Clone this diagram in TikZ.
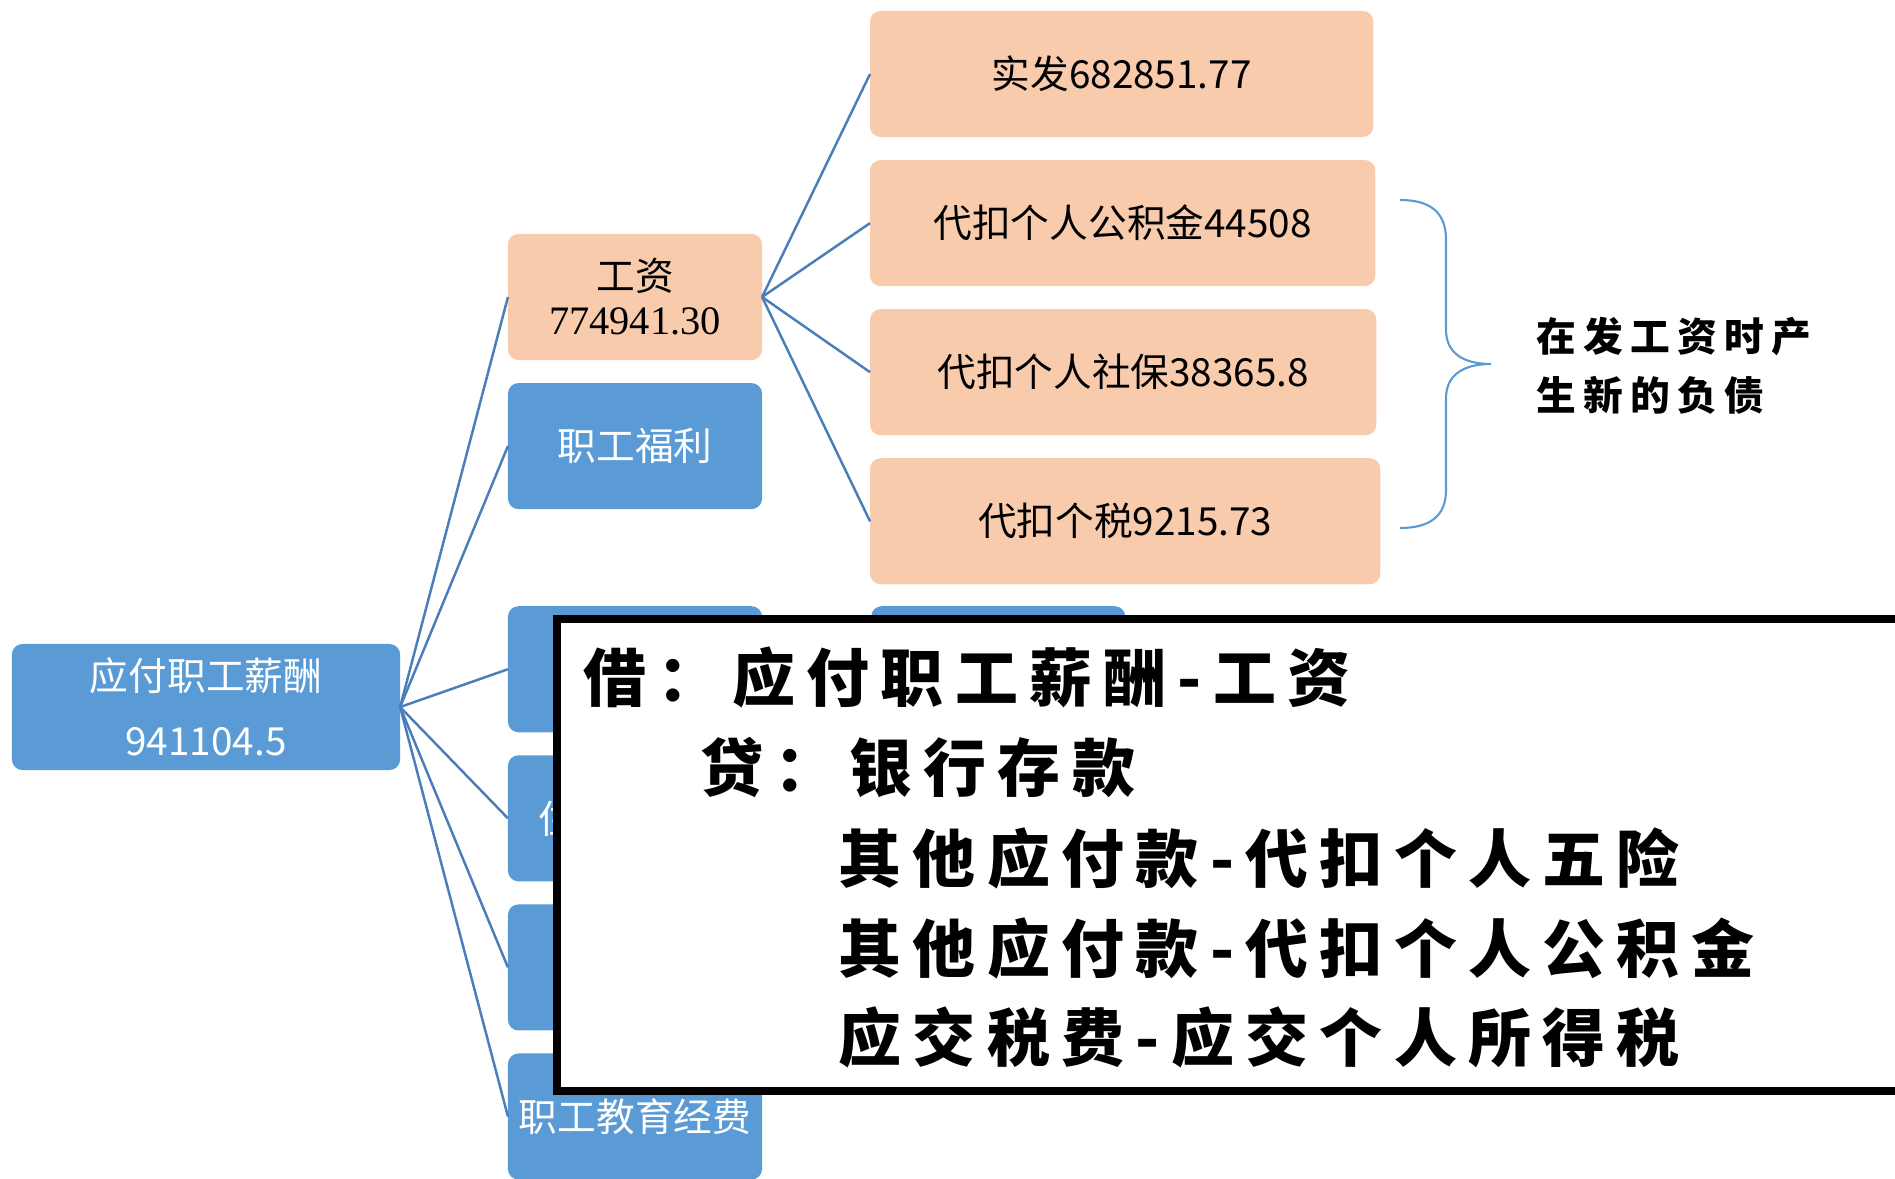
\documentclass[tikz,border=0pt]{standalone}
\usepackage{fontspec}
\newfontfamily\cnfont{Noto Sans CJK SC}
\newfontfamily\numfont{Liberation Serif}
\newfontfamily\brushfont[LetterSpace=18]{Noto Sans CJK SC}
\definecolor{smblue}{HTML}{5B9BD5}
\definecolor{smpeach}{HTML}{F8CBAD}
\definecolor{smline}{HTML}{4A7EBB}
\usepackage{tikz}
\usetikzlibrary{positioning}

\begin{document}
\begin{tikzpicture}[
  x=0.01cm, y=-0.01cm,
  box/.style={fill=#1, rounded corners=3pt, inner sep=0pt, outer sep=0pt,
    font=\cnfont\fontsize{11}{13}\selectfont, minimum width=2.54cm,
    minimum height=1.26cm, align=center},
  bluebox/.style={box=smblue, text=white},
  peachbox/.style={box=smpeach, text=black, anchor=west},
  link/.style={draw=smline, line width=0.7pt},
  entry/.style={font=\brushfont\bfseries\fontsize{17.9}{20}\selectfont, anchor=west, inner sep=0pt}
]
  \useasboundingbox (0,0) rectangle (1895,1178);

  % Tree
  \node[bluebox, minimum width=3.88cm, font=\cnfont\fontsize{11}{18.5}\selectfont] (root) at (206,707) {应付职工薪酬\\941104.5};
  \node[box=smpeach, font=\cnfont\fontsize{11}{12.5}\selectfont] (wage) at (635,297) {工资\\{\numfont\fontsize{11.5}{12.5}\selectfont 774941.30}};
  \node[bluebox, below=0.23cm of wage] (welfare) {职工福利};
  \node[bluebox, below=0.97cm of welfare] (insure) {};
  \node[bluebox, below=0.23cm of insure] (housing) {住房公积金};
  \node[bluebox, below=0.23cm of housing] (union) {};
  \node[bluebox, below=0.23cm of union] (edu) {职工教育经费};
  \node[bluebox, right=1.09cm of insure] (insureleaf) {};

  \node[peachbox, minimum width=5.03cm] (pay) at (870,74) {实发682851.77};
  \node[peachbox, minimum width=5.05cm, below=0.23cm of pay.south west, anchor=north west] (fund) {代扣个人公积金44508};
  \node[peachbox, minimum width=5.06cm, below=0.23cm of fund.south west, anchor=north west] (social) {代扣个人社保38365.8};
  \node[peachbox, minimum width=5.10cm, below=0.23cm of social.south west, anchor=north west] (tax) {代扣个税9215.73};

  \foreach \n in {wage,welfare,insure,housing,union,edu}
    \draw[link] (root.east) -- (\n.west);
  \foreach \n in {pay,fund,social,tax}
    \draw[link] (wage.east) -- (\n.west);
  \draw[link] (insure.east) -- (insureleaf.west);

  % Brace and note
  \draw[smblue, line width=0.6pt] (1400,200) .. controls (1430,200) and (1446,212) .. (1446,240) -- (1446,330)
    .. controls (1446,352) and (1462,364) .. (1491,364)
    .. controls (1462,364) and (1446,376) .. (1446,398) -- (1446,490)
    .. controls (1446,516) and (1430,528) .. (1400,528);
  \node[anchor=west, align=left, inner sep=0pt,
    font=\brushfont\bfseries\fontsize{11.3}{16.8}\selectfont] (note) at (1536,366) {在发工资时产\\生新的负债};

  % Journal entry
  \draw[line width=0.08cm, fill=white] (557,619) rectangle (1915,1091);
  \node[entry] (debit) at (583,677) {借：应付职工薪酬-工资};
  \node[entry] (credit) at (700,767) {贷：银行存款};
  \node[entry] (cr1) at (838,858) {其他应付款-代扣个人五险};
  \node[entry] (cr2) at (838,948) {其他应付款-代扣个人公积金};
  \node[entry] (cr3) at (838,1037) {应交税费-应交个人所得税};
\end{tikzpicture}
\end{document}
